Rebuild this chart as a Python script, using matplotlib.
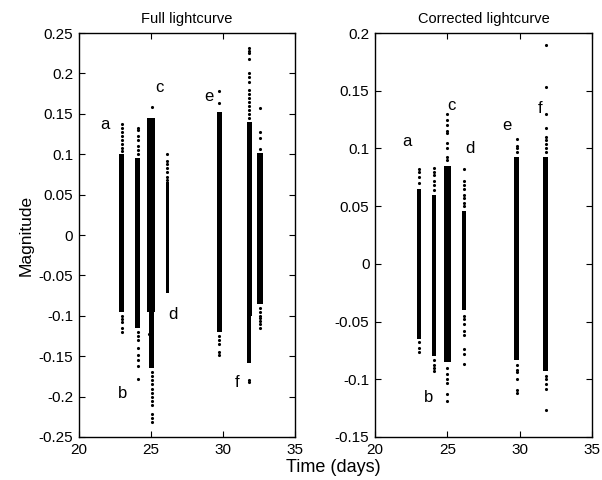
import matplotlib
matplotlib.use('Agg')
import matplotlib.pyplot as plt
import numpy as np

plt.rcParams['font.family'] = ['Liberation Sans', 'DejaVu Sans']

# ---- Full lightcurve: dense cores (x centre, spread in days, low, high)
full_core_x = [22.96, 24.07, 25.0, 25.05, 26.13, 29.74, 31.83, 31.83, 32.57]
full_core_w = [0.34, 0.30, 0.50, 0.30, 0.22, 0.36, 0.38, 0.26, 0.36]
full_core_lo = [-0.095, -0.115, -0.095, -0.165, -0.072, -0.120, -0.100, -0.158, -0.085]
full_core_hi = [0.100, 0.095, 0.145, -0.095, 0.065, 0.152, 0.140, -0.100, 0.102]

# sparse points outside the cores
full_dot_x = ([22.96] * 13 + [24.07] * 15 + [25.05] * 13 + [24.85] + [26.13] * 7
              + [29.74] * 7 + [31.83] * 17 + [32.57] * 11)
full_dot_y = ([0.138, 0.133, 0.128, 0.123, 0.118, 0.113, 0.108, 0.104,
               -0.100, -0.104, -0.108, -0.115, -0.120]
              + [0.133, 0.130, 0.122, 0.117, 0.110, 0.105, 0.100,
                 -0.120, -0.125, -0.130, -0.140, -0.148, -0.155, -0.162, -0.178]
              + [0.158, -0.170, -0.175, -0.180, -0.185, -0.190, -0.195, -0.200,
                 -0.205, -0.210, -0.222, -0.226, -0.232]
              + [-0.122]
              + [0.100, 0.092, 0.088, 0.083, 0.078, 0.072, 0.068]
              + [0.178, 0.163, -0.125, -0.130, -0.135, -0.145, -0.148]
              + [0.231, 0.228, 0.225, 0.218, 0.200, 0.195, 0.190, 0.180, 0.175,
                 0.170, 0.165, 0.160, 0.155, 0.150, 0.145, -0.180, -0.182]
              + [0.157, 0.127, 0.120, 0.107,
                 -0.090, -0.095, -0.100, -0.103, -0.107, -0.110, -0.115])

full_lab = ['a', 'b', 'c', 'd', 'e', 'f']
full_lab_x = [21.8, 23.05, 25.6, 26.5, 29.0, 31.0]
full_lab_y = [0.137, -0.196, 0.182, -0.098, 0.171, -0.182]

# ---- Corrected lightcurve
corr_core_x = [23.04, 24.10, 25.0, 26.15, 29.80, 31.80]
corr_core_w = [0.32, 0.30, 0.48, 0.24, 0.34, 0.38]
corr_core_lo = [-0.065, -0.080, -0.085, -0.040, -0.083, -0.093]
corr_core_hi = [0.065, 0.060, 0.085, 0.046, 0.093, 0.093]

corr_dot_x = ([23.04] * 7 + [24.10] * 10 + [25.0] * 15 + [26.15] * 16
              + [29.80] * 10 + [31.80] * 14)
corr_dot_y = ([0.082, 0.080, 0.075, 0.070, -0.068, -0.073, -0.076]
              + [0.083, 0.080, 0.077, 0.072, 0.068, 0.064,
                 -0.083, -0.088, -0.090, -0.093]
              + [0.130, 0.125, 0.120, 0.115, 0.113, 0.105, 0.100, 0.093, 0.090,
                 -0.090, -0.095, -0.100, -0.103, -0.113, -0.119]
              + [0.082, 0.072, 0.068, 0.065, 0.060, 0.057, 0.053, 0.050,
                 -0.045, -0.048, -0.052, -0.058, -0.062, -0.074, -0.078, -0.087]
              + [0.108, 0.102, 0.100, 0.097,
                 -0.088, -0.092, -0.094, -0.100, -0.109, -0.112]
              + [0.190, 0.153, 0.130, 0.118, 0.110, 0.107, 0.104, 0.100, 0.097,
                 -0.097, -0.100, -0.104, -0.108, -0.127])

corr_lab = ['a', 'b', 'c', 'd', 'e', 'f']
corr_lab_x = [22.2, 23.7, 25.3, 26.6, 29.1, 31.45]
corr_lab_y = [0.106, -0.116, 0.137, 0.100, 0.120, 0.135]


def fmt(v):
    if abs(v) < 1e-9:
        return '0'
    return '%g' % v


def draw_panel(ax, cx, cw, clo, chi, dx, dy, labs, lx, ly, title, ylim, yticks):
    ax.bar(cx, np.array(chi) - np.array(clo), bottom=clo, width=cw,
           color='k', linewidth=0)
    ax.plot(dx, dy, 'k.', ms=4.5, mew=0)
    for t, x, y in zip(labs, lx, ly):
        ax.text(x, y, t, fontsize=12, ha='center', va='center')
    ax.set_xlim(20, 35)
    ax.set_ylim(*ylim)
    ax.set_xticks([20, 25, 30, 35])
    ax.set_yticks(yticks)
    ax.set_yticklabels([fmt(v) for v in yticks])
    ax.tick_params(direction='in', top=True, right=True, labelsize=11,
                   length=4, width=0.8, pad=4)
    for s in ax.spines.values():
        s.set_linewidth(1.0)
    ax.set_title(title, fontsize=10.5, pad=7)


fig = plt.figure(figsize=(6.02, 4.8), dpi=100)
ax1 = fig.add_axes([0.131, 0.0896, 0.359, 0.8416])
ax2 = fig.add_axes([0.623, 0.0896, 0.360, 0.8416])

draw_panel(ax1, full_core_x, full_core_w, full_core_lo, full_core_hi,
           full_dot_x, full_dot_y, full_lab, full_lab_x, full_lab_y,
           'Full lightcurve', (-0.25, 0.25),
           np.round(np.arange(-0.25, 0.251, 0.05), 2))
draw_panel(ax2, corr_core_x, corr_core_w, corr_core_lo, corr_core_hi,
           corr_dot_x, corr_dot_y, corr_lab, corr_lab_x, corr_lab_y,
           'Corrected lightcurve', (-0.15, 0.2),
           np.round(np.arange(-0.15, 0.201, 0.05), 2))

ax1.set_ylabel('Magnitude', fontsize=12.5, labelpad=4)
fig.text(0.553, 0.025, 'Time (days)', fontsize=13, ha='center', va='center')

fig.savefig('out.png', dpi=100)
